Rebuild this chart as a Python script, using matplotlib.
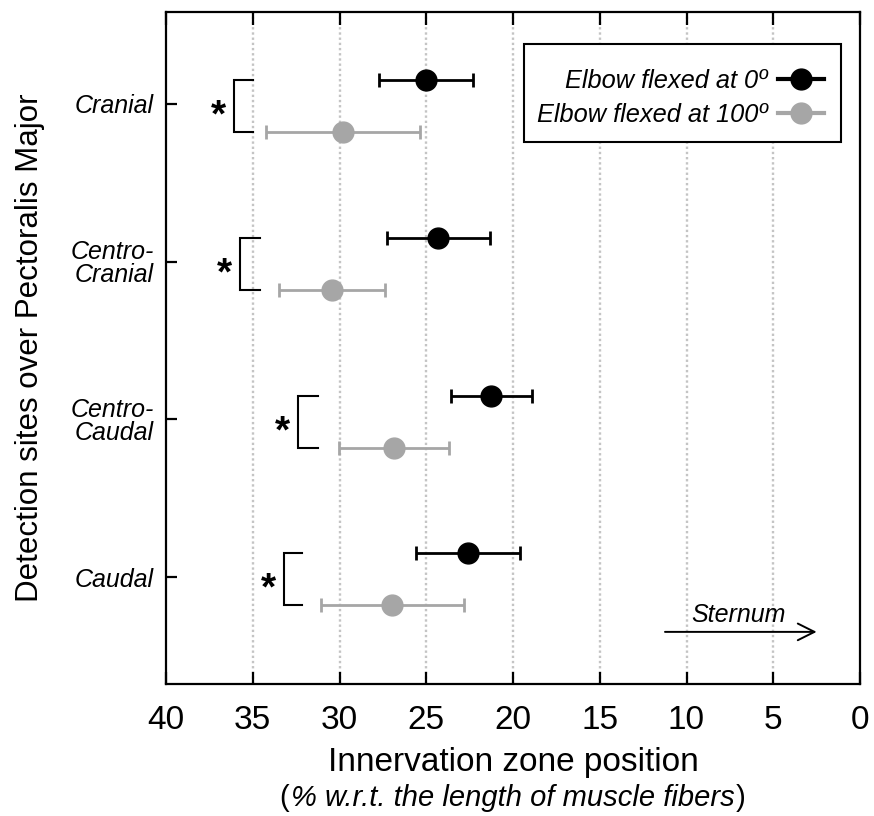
import matplotlib
matplotlib.use("Agg")
import matplotlib.pyplot as plt
from matplotlib.lines import Line2D
from matplotlib.patches import Rectangle

plt.rcParams['font.family'] = ['Liberation Sans', 'DejaVu Sans']

# ---- data ----
categories = ['Cranial', 'Centro-\nCranial', 'Centro-\nCaudal', 'Caudal']
cat_pos = [4, 3, 2, 1]
flex0_mean = [25.0, 24.3, 21.25, 22.6]
flex0_err = [2.7, 2.95, 2.32, 3.0]
flex100_mean = [29.8, 30.45, 26.86, 26.95]
flex100_err = [4.45, 3.05, 3.17, 4.1]
sig_bracket_x = [36.08, 35.73, 32.39, 33.2]
sig_bracket_end = [35.0, 34.6, 31.25, 32.15]
xticks = [40, 35, 30, 25, 20, 15, 10, 5, 0]
label0 = 'Elbow flexed at 0º'
label100 = 'Elbow flexed at 100º'

black = '#000000'
gray = '#a6a6a6'
off_black = 0.15
off_gray = -0.18

W, H = 874, 816
fig = plt.figure(figsize=(W/100, H/100), dpi=100)
AX_L, AX_R, AX_T, AX_B = 166, 860, 12, 684
ax = fig.add_axes([AX_L/W, 1 - AX_B/H, (AX_R-AX_L)/W, (AX_B-AX_T)/H])

def axfx(px):
    return (px - AX_L) / (AX_R - AX_L)

def axfy(py):
    return (AX_B - py) / (AX_B - AX_T)

ax.set_xlim(40, 0)
ax.set_ylim(0.3215, 4.583)

# grid
for xv in xticks[1:-1]:
    ax.axvline(xv, color='#c4c4c4', lw=1.7, linestyle=(0, (1.0, 1.2)), zorder=0)

y0 = [p + off_black for p in cat_pos]
y1 = [p + off_gray for p in cat_pos]

ax.errorbar(flex0_mean, y0, xerr=flex0_err, fmt='o', color=black, ms=15,
            elinewidth=2.0, capsize=5, capthick=2.0, zorder=3)
ax.errorbar(flex100_mean, y1, xerr=flex100_err, fmt='o', color=gray, ms=15,
            elinewidth=2.0, capsize=5, capthick=2.0, zorder=3)

# significance brackets
for xb, xe, ya, yb in zip(sig_bracket_x, sig_bracket_end, y0, y1):
    ax.plot([xe, xb, xb, xe], [ya, ya, yb, yb], color='black', lw=1.5,
            solid_joinstyle='miter', zorder=2)
    ax.annotate('*', xy=(xb, (ya + yb) / 2), xytext=(-11, -7.5),
                textcoords='offset points', ha='center', va='center',
                fontsize=28, fontweight='bold', color='black')

# sternum arrow
ax.annotate('', xy=(2.5, 0.652), xytext=(11.24, 0.652),
            arrowprops=dict(arrowstyle='->', color='black', lw=1.4,
                            mutation_scale=30, shrinkA=0, shrinkB=0))
ax.text(7.0, 0.76, 'Sternum', fontsize=18, style='italic',
        ha='center', va='center')

# ticks
ax.set_xticks(xticks)
ax.set_xticklabels([str(t) for t in xticks], fontsize=24)
ax.set_yticks(cat_pos)
ax.set_yticklabels(categories, fontsize=18, style='italic',
                   linespacing=0.95)
ax.tick_params(axis='x', direction='in', length=9, width=1.6, pad=15,
               top=True)
ax.tick_params(axis='y', direction='in', length=8, width=1.6, pad=9)
for lab in ax.get_yticklabels():
    lab.set_horizontalalignment('right')
for sp in ax.spines.values():
    sp.set_linewidth(1.6)

# labels
fig.text(30/W, 1 - 348/H, 'Detection sites over Pectoralis Major',
         fontsize=22.5, rotation=90, ha='center', va='center')
cx = (AX_L + AX_R) / 2 / W
fig.text(cx, 1 - 771/H, 'Innervation zone position', fontsize=24,
         ha='center', va='baseline')
sub = fig.text(cx, 1 - 806/H, '% w.r.t. the length of muscle fibers',
               fontsize=21, style='italic', ha='center', va='baseline')
fig.canvas.draw()
bb = sub.get_window_extent()
fig.text(bb.x0 / fig.bbox.width - 0.002, 1 - 806/H, '(', fontsize=21,
         ha='right', va='baseline')
fig.text(bb.x1 / fig.bbox.width + 0.001, 1 - 806/H, ')', fontsize=21,
         ha='left', va='baseline')

# legend frame (drawn as a box) and entries
ax.add_patch(Rectangle((axfx(524), axfy(142)), axfx(841) - axfx(524),
                       axfy(44) - axfy(142), transform=ax.transAxes,
                       facecolor='white', edgecolor='black', lw=1.5,
                       zorder=5))
handles = [Line2D([], [], color=black, marker='o', ms=15, lw=3),
           Line2D([], [], color=gray, marker='o', ms=15, lw=3)]
leg = ax.legend(handles, [label0, label100], loc='upper right',
                bbox_to_anchor=(axfx(824), axfy(69)),
                markerfirst=False, numpoints=1,
                prop={'style': 'italic', 'size': 18.3},
                frameon=False, handlelength=1.8, handletextpad=0.43,
                labelspacing=0.38, borderpad=0, borderaxespad=0)
leg.set_zorder(6)

fig.savefig('out.png', dpi=100)
